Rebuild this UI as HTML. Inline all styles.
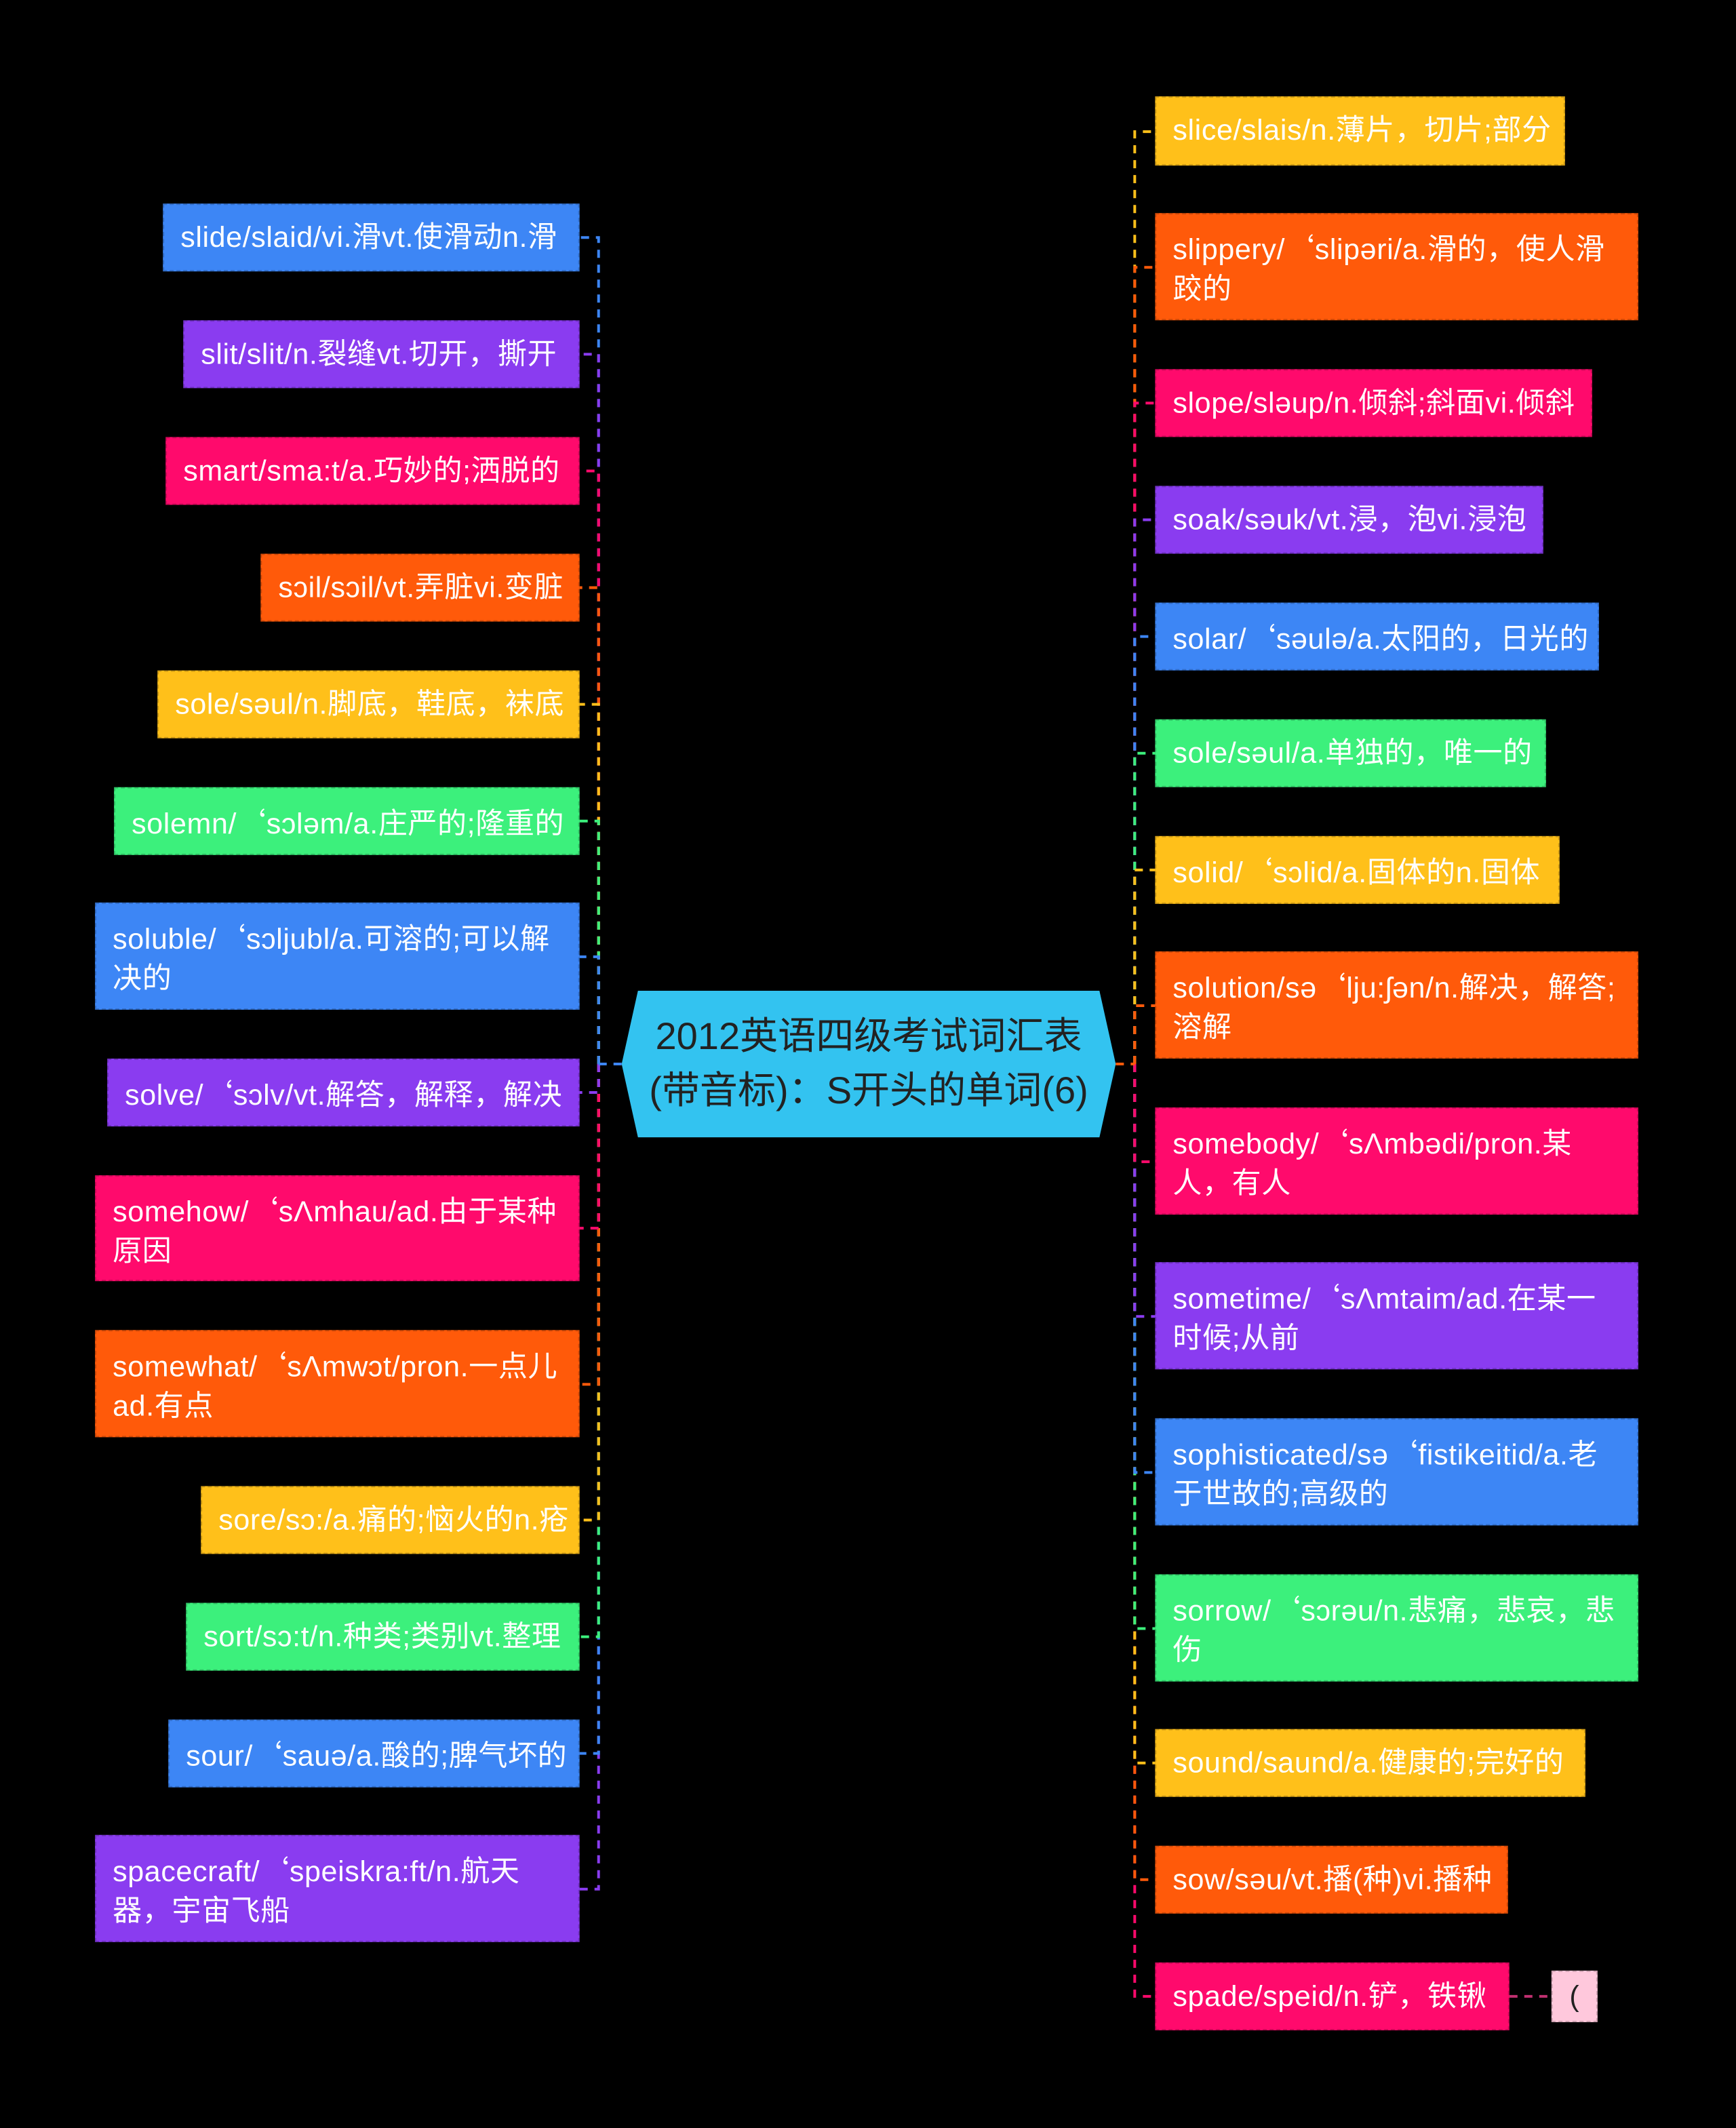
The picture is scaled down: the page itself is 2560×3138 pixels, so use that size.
<!DOCTYPE html>
<html><head><meta charset="utf-8"><style>
html,body{margin:0;padding:0;background:#000;}
body{width:2560px;height:3138px;overflow:hidden;position:relative;}
#w{position:absolute;left:0;top:0;width:1279px;height:1568px;transform:scale(2.0016,2.0013);transform-origin:0 0;}
.n{position:absolute;box-sizing:border-box;color:#fff;font-family:"Liberation Sans","Noto Sans CJK SC",sans-serif;font-size:21.5px;letter-spacing:0.3px;line-height:29px;padding:10px 10px 10px 12px;border:1.5px dashed rgba(0,0,0,0.18);white-space:nowrap;}
.t{white-space:normal;word-break:break-all;}
.q{font-family:"Noto Sans CJK SC",sans-serif;}
.b{background:#3d86f5}.p{background:#8a3cf0}.k{background:#ff0a6c}.o{background:#ff5a0a}.y{background:#ffc01a}.g{background:#3cf07c}
svg{position:absolute;left:0;top:0}
path{fill:none;stroke-width:2;stroke-dasharray:6 5}
</style></head><body><div id="w">
<svg width="1279" height="1568">
<g>
<path d="M441 784V175H427" stroke="#3d86f5"/>
<path d="M441 784V261H427" stroke="#8a3cf0"/>
<path d="M441 784V347H427" stroke="#ff0a6c"/>
<path d="M441 784V433H427" stroke="#ff5a0a"/>
<path d="M441 784V519H427" stroke="#ffc01a"/>
<path d="M441 784V605H427" stroke="#3cf07c"/>
<path d="M441 784V705H427" stroke="#3d86f5"/>
<path d="M441 784V1392H427" stroke="#8a3cf0"/>
<path d="M441 784V1292H427" stroke="#3d86f5"/>
<path d="M441 784V1206H427" stroke="#3cf07c"/>
<path d="M441 784V1120H427" stroke="#ffc01a"/>
<path d="M441 784V1020H427" stroke="#ff5a0a"/>
<path d="M441 784V905H427" stroke="#ff0a6c"/>
<path d="M441 784V805H427" stroke="#8a3cf0"/>
<path d="M441 784H458" stroke="#3d86f5"/>
<path d="M836 784V97H851" stroke="#ffc01a"/>
<path d="M836 784V197H851" stroke="#ff5a0a"/>
<path d="M836 784V297H851" stroke="#ff0a6c"/>
<path d="M836 784V383H851" stroke="#8a3cf0"/>
<path d="M836 784V469H851" stroke="#3d86f5"/>
<path d="M836 784V555H851" stroke="#3cf07c"/>
<path d="M836 784V641H851" stroke="#ffc01a"/>
<path d="M836 784V741H851" stroke="#ff5a0a"/>
<path d="M836 784V1471H851" stroke="#ff0a6c"/>
<path d="M836 784V1385H851" stroke="#ff5a0a"/>
<path d="M836 784V1299H851" stroke="#ffc01a"/>
<path d="M836 784V1200H851" stroke="#3cf07c"/>
<path d="M836 784V1085H851" stroke="#3d86f5"/>
<path d="M836 784V970H851" stroke="#8a3cf0"/>
<path d="M836 784V856H851" stroke="#ff0a6c"/>
<path d="M822 784H836" stroke="#ff5a0a"/>
<path d="M1112 1471H1143" stroke="#c03070"/>
<polygon points="470,730 810,730 822,784 810,838 470,838 458,784" fill="#33c3f0"/>
</g>
</svg>
<div style="position:absolute;left:458px;top:744px;width:364px;text-align:center;font-family:'Liberation Sans','Noto Sans CJK SC',sans-serif;font-size:28px;line-height:40px;color:#222;">2012英语四级考试词汇表<br>(带音标)：S开头的单词(6)</div>

<div class="n b" style="left:120px;top:150px;width:307px;height:50px">slide/slaid/vi.滑vt.使滑动n.滑</div>
<div class="n p" style="left:135px;top:236px;width:292px;height:50px">slit/slit/n.裂缝vt.切开，撕开</div>
<div class="n k" style="left:122px;top:322px;width:305px;height:50px">smart/sma:t/a.巧妙的;洒脱的</div>
<div class="n o" style="left:192px;top:408px;width:235px;height:50px">sɔil/sɔil/vt.弄脏vi.变脏</div>
<div class="n y" style="left:116px;top:494px;width:311px;height:50px">sole/səul/n.脚底，鞋底，袜底</div>
<div class="n g" style="left:84px;top:580px;width:343px;height:50px">solemn/<span class="q">‘</span>sɔləm/a.庄严的;隆重的</div>
<div class="n b t" style="left:70px;top:665px;width:357px;height:79px">soluble/<span class="q">‘</span>sɔljubl/a.可溶的;可以解决的</div>
<div class="n p" style="left:79px;top:780px;width:348px;height:50px">solve/<span class="q">‘</span>sɔlv/vt.解答，解释，解决</div>
<div class="n k t" style="left:70px;top:866px;width:357px;height:78px">somehow/<span class="q">‘</span>sΛmhau/ad.由于某种原因</div>
<div class="n o t" style="left:70px;top:980px;width:357px;height:79px">somewhat/<span class="q">‘</span>sΛmwɔt/pron.一点儿ad.有点</div>
<div class="n y" style="left:148px;top:1095px;width:279px;height:50px">sore/sɔ:/a.痛的;恼火的n.疮</div>
<div class="n g" style="left:137px;top:1181px;width:290px;height:50px">sort/sɔ:t/n.种类;类别vt.整理</div>
<div class="n b" style="left:124px;top:1267px;width:303px;height:50px">sour/<span class="q">‘</span>sauə/a.酸的;脾气坏的</div>
<div class="n p t" style="left:70px;top:1352px;width:357px;height:79px">spacecraft/<span class="q">‘</span>speiskra:ft/n.航天器，宇宙飞船</div>

<div class="n y" style="left:851px;top:71px;width:302px;height:51px">slice/slais/n.薄片，切片;部分</div>
<div class="n o t" style="left:851px;top:157px;width:356px;height:79px">slippery/<span class="q">‘</span>slipəri/a.滑的，使人滑跤的</div>
<div class="n k" style="left:851px;top:272px;width:322px;height:50px">slope/sləup/n.倾斜;斜面vi.倾斜</div>
<div class="n p" style="left:851px;top:358px;width:286px;height:50px">soak/səuk/vt.浸，泡vi.浸泡</div>
<div class="n b" style="left:851px;top:444px;width:327px;height:50px">solar/<span class="q">‘</span>səulə/a.太阳的，日光的</div>
<div class="n g" style="left:851px;top:530px;width:288px;height:50px">sole/səul/a.单独的，唯一的</div>
<div class="n y" style="left:851px;top:616px;width:298px;height:50px">solid/<span class="q">‘</span>sɔlid/a.固体的n.固体</div>
<div class="n o t" style="left:851px;top:701px;width:356px;height:79px">solution/sə<span class="q">‘</span>lju:ʃən/n.解决，解答;溶解</div>
<div class="n k t" style="left:851px;top:816px;width:356px;height:79px">somebody/<span class="q">‘</span>sΛmbədi/pron.某人，有人</div>
<div class="n p t" style="left:851px;top:930px;width:356px;height:79px">sometime/<span class="q">‘</span>sΛmtaim/ad.在某一时候;从前</div>
<div class="n b t" style="left:851px;top:1045px;width:356px;height:79px">sophisticated/sə<span class="q">‘</span>fistikeitid/a.老于世故的;高级的</div>
<div class="n g t" style="left:851px;top:1160px;width:356px;height:79px">sorrow/<span class="q">‘</span>sɔrəu/n.悲痛，悲哀，悲伤</div>
<div class="n y" style="left:851px;top:1274px;width:317px;height:50px">sound/saund/a.健康的;完好的</div>
<div class="n o" style="left:851px;top:1360px;width:260px;height:50px">sow/səu/vt.播(种)vi.播种</div>
<div class="n k" style="left:851px;top:1446px;width:261px;height:50px">spade/speid/n.铲，铁锹</div>
<div class="n" style="left:1143px;top:1452px;width:34px;height:38px;background:#ffc8dc;color:#222;padding:4px 0 0 0;text-align:center;">(</div>
</div></body></html>
